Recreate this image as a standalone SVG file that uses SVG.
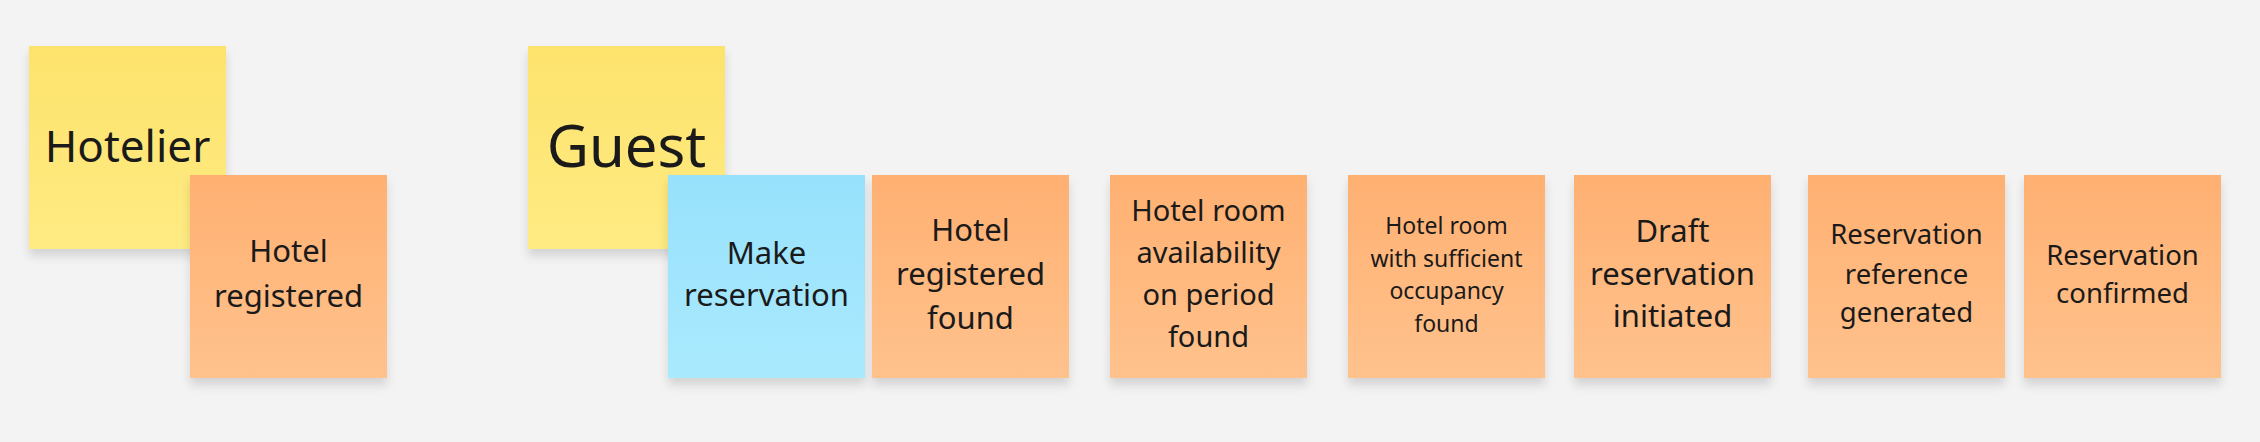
<svg xmlns="http://www.w3.org/2000/svg" width="2260" height="442" viewBox="0 0 2260 442">
<defs>
<linearGradient id="gy" x1="0" y1="0" x2="0" y2="1"><stop offset="0" stop-color="#FDE36C"/><stop offset="1" stop-color="#FFEB83"/></linearGradient>
<linearGradient id="go" x1="0" y1="0" x2="0" y2="1"><stop offset="0" stop-color="#FFB071"/><stop offset="1" stop-color="#FFC28D"/></linearGradient>
<linearGradient id="gb" x1="0" y1="0" x2="0" y2="1"><stop offset="0" stop-color="#97E1FC"/><stop offset="1" stop-color="#AAEAFE"/></linearGradient>
<filter id="sh" x="-10%" y="-10%" width="120%" height="130%"><feDropShadow dx="0" dy="7" stdDeviation="5" flood-color="#000" flood-opacity="0.13"/></filter>
</defs>
<style>
.t{font-family:"Noto Sans","Open Sans","DejaVu Sans",sans-serif;fill:#1A1A1A;text-anchor:middle}
.y{fill:url(#gy)} .o{fill:url(#go)} .b{fill:url(#gb)}
.s{filter:url(#sh)}
</style>
<rect width="2260" height="442" fill="#F3F3F3"/>
<g id="connectors"/>
<g id="hotelier"><rect class="y s" x="29" y="46" width="197" height="203"/><text class="t" x="127.5" y="162" font-size="44">Hotelier</text></g>
<g id="hotel-registered"><rect class="o s" x="190" y="175" width="197" height="203"/><text class="t" font-size="31"><tspan x="288.5" y="262">Hotel</tspan><tspan x="288.5" y="307">registered</tspan></text></g>
<g id="guest"><rect class="y s" x="528" y="46" width="197" height="203"/><text class="t" x="626.5" y="167" font-size="58">Guest</text></g>
<g id="make-reservation"><rect class="b s" x="668" y="175" width="197" height="203"/><text class="t" font-size="31"><tspan x="766.5" y="264">Make</tspan><tspan x="766.5" y="306">reservation</tspan></text></g>
<g id="hotel-registered-found"><rect class="o s" x="872" y="175" width="197" height="203"/><text class="t" font-size="31"><tspan x="970.5" y="241">Hotel</tspan><tspan x="970.5" y="285">registered</tspan><tspan x="970.5" y="329">found</tspan></text></g>
<g id="hotel-room-availability"><rect class="o s" x="1110" y="175" width="197" height="203"/><text class="t" font-size="29"><tspan x="1208.5" y="221">Hotel room</tspan><tspan x="1208.5" y="263">availability</tspan><tspan x="1208.5" y="305">on period</tspan><tspan x="1208.5" y="347">found</tspan></text></g>
<g id="hotel-room-occupancy"><rect class="o s" x="1348" y="175" width="197" height="203"/><text class="t" font-size="23"><tspan x="1446.5" y="234">Hotel room</tspan><tspan x="1446.5" y="267">with sufficient</tspan><tspan x="1446.5" y="299">occupancy</tspan><tspan x="1446.5" y="332">found</tspan></text></g>
<g id="draft-reservation"><rect class="o s" x="1574" y="175" width="197" height="203"/><text class="t" font-size="31"><tspan x="1672.5" y="242">Draft</tspan><tspan x="1672.5" y="285">reservation</tspan><tspan x="1672.5" y="327">initiated</tspan></text></g>
<g id="reservation-reference"><rect class="o s" x="1808" y="175" width="197" height="203"/><text class="t" font-size="27.5"><tspan x="1906.5" y="244">Reservation</tspan><tspan x="1906.5" y="284">reference</tspan><tspan x="1906.5" y="322">generated</tspan></text></g>
<g id="reservation-confirmed"><rect class="o s" x="2024" y="175" width="197" height="203"/><text class="t" font-size="27.5"><tspan x="2122.5" y="265">Reservation</tspan><tspan x="2122.5" y="303">confirmed</tspan></text></g>
</svg>
